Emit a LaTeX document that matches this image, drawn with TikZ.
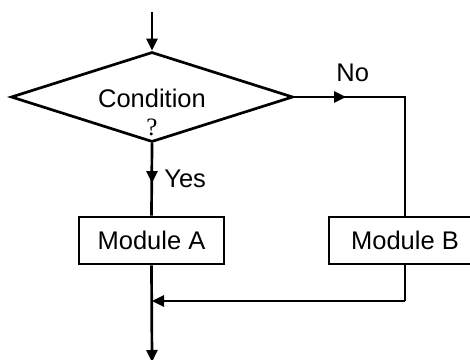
\documentclass[tikz,border=0pt]{standalone}
\usepackage{fontspec}
\setmainfont{Liberation Sans}
\newfontfamily\serifq{Liberation Serif}
\usetikzlibrary{shapes.geometric,arrows.meta}
\begin{document}
\begin{tikzpicture}[x=1pt,y=-1pt,
  line width=2.7pt,
  tip/.style={-{Triangle[length=12pt,width=11pt]}},
  box/.style={draw,rectangle,minimum width=145pt,minimum height=47pt,inner sep=0pt,font=\fontsize{25.5}{30}\selectfont},
  lbl/.style={inner sep=0pt,font=\fontsize{25.5}{30}\selectfont},
  decision/.style={draw,diamond,minimum width=282pt,minimum height=90pt,inner sep=0pt}]
\useasboundingbox (0,0) rectangle (470,359);
\node[decision] (cond) at (152,97) {};
\node[lbl] (ctext) at (152,98) {Condition};
\node[inner sep=0pt,font=\serifq\fontsize{25}{30}\selectfont] (q) at (152,127) {?};
\node[box] (A) at (151.5,240.5) {Module A};
\node[box,minimum width=152pt] (B) at (405,240.5) {Module B};
\node[lbl,anchor=west] (yes) at (163,179) {Yes};
\node[lbl,anchor=west] (no) at (335,73) {No};
\coordinate (start) at (152,12);
\coordinate (yesmid) at (152,183);
\coordinate (nomid) at (346,97);
\coordinate (corner) at (405,97);
\coordinate (join) at (152,301);
\coordinate (bcorner) at (405,301);
\coordinate (endp) at (152,362);
\draw[tip] (start) -- (cond.north);
\draw (cond.south) -- (A.north);
\draw[tip] (cond.south) -- (yesmid);
\draw (cond.east) -- (corner) -- (B.north);
\draw[tip] (cond.east) -- (nomid);
\draw (B.south) -- (bcorner);
\draw[tip] (bcorner) -- (join);
\draw[tip] (A.south) -- (endp);
\end{tikzpicture}
\end{document}
